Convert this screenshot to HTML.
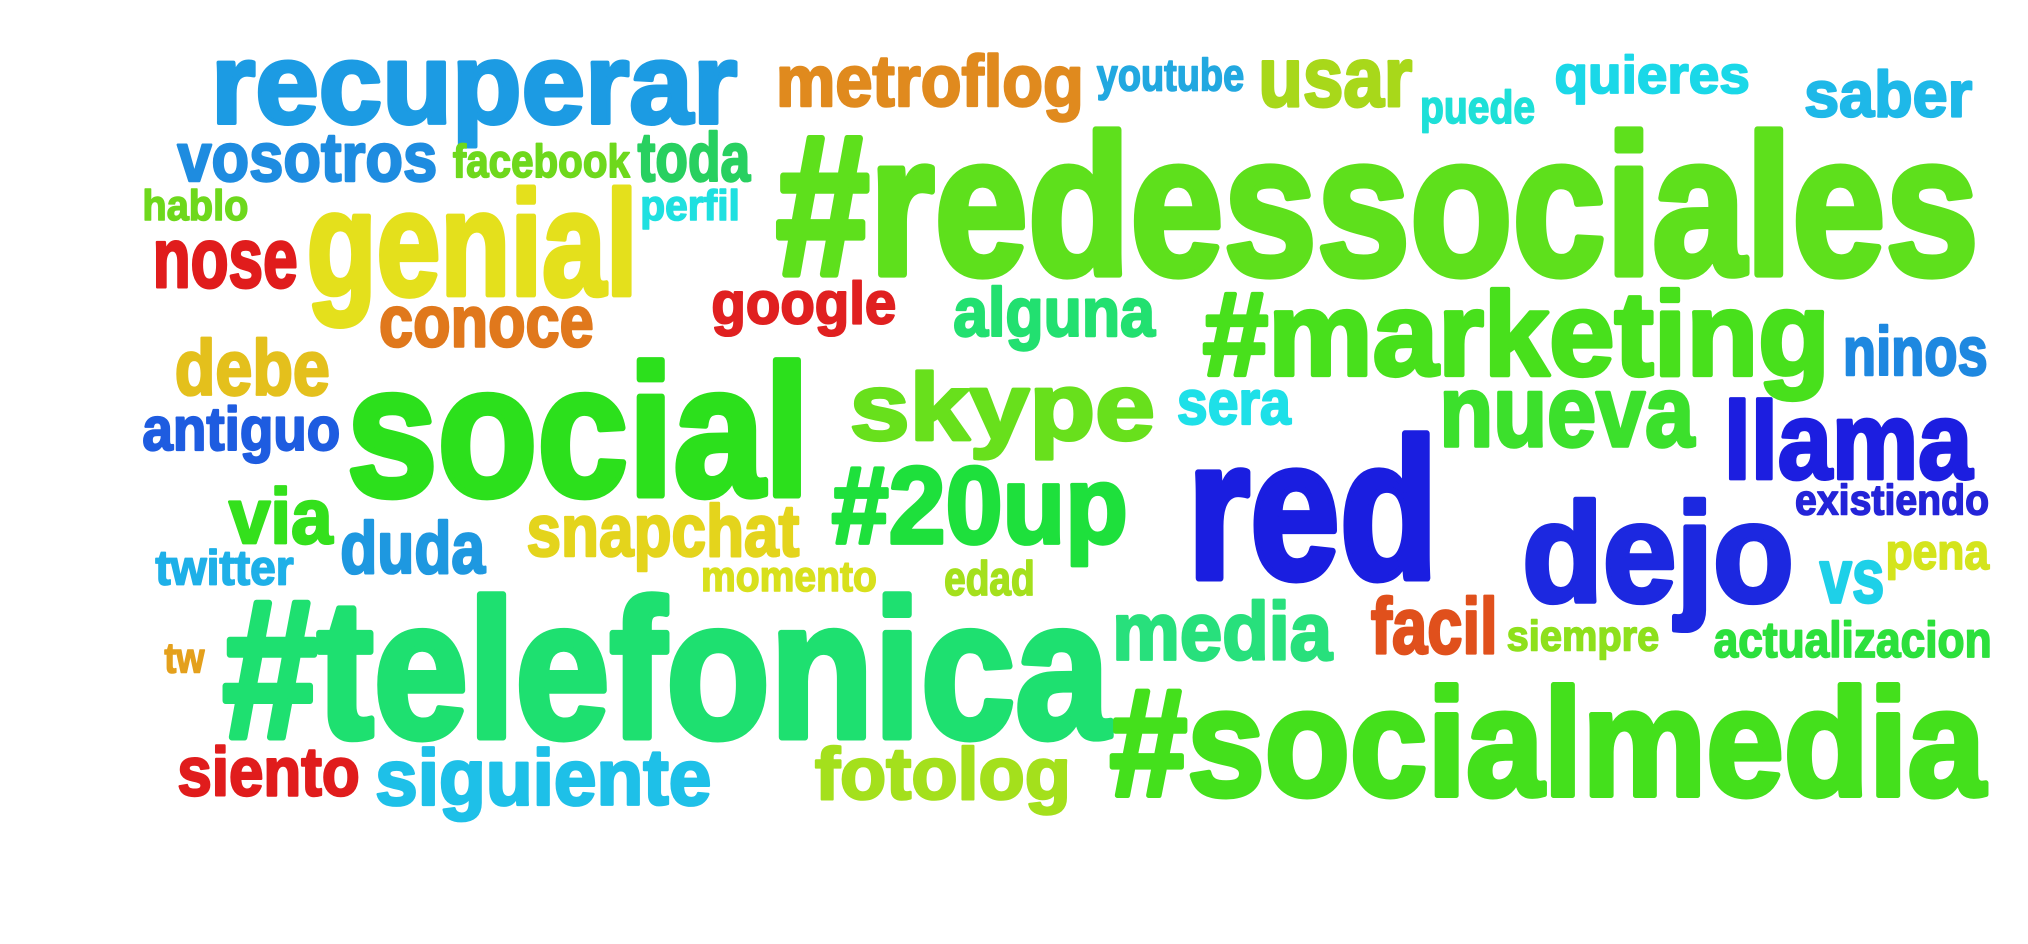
<!DOCTYPE html>
<html><head><meta charset="utf-8"><style>
html,body{margin:0;padding:0;background:#fff;width:2028px;height:944px;overflow:hidden}
svg{display:block}
text{font-family:"Liberation Sans",sans-serif;font-weight:bold}
</style></head><body>
<svg id="cloud" width="2028" height="944" viewBox="0 0 1568 730" xmlns="http://www.w3.org/2000/svg">
<rect width="1568" height="730" fill="#fff"/>
</svg>
<script>
const words=["recuperar","metroflog","youtube","usar","puede","quieres","saber","#redessociales","vosotros","facebook","toda","hablo","perfil","genial","nose","google","conoce","alguna","#marketing","ninos","debe","social","skype","sera","nueva","llama","antiguo","red","#20up","via","existiendo","dejo","duda","snapchat","twitter","momento","edad","vs","pena","#telefonica","media","facil","siempre","actualizacion","tw","#socialmedia","siento","siguiente","fotolog"];
const xs=[163,600,848,973,1098,1202,1395,600,137,350,493,110,495,237,118,550,293,737,930,1425,135,268,657,910,1113,1333,110,918,643,177,1388,1177,263,407,120,542,730,1407,1458,172,860,1060,1165,1325,127,858,137,290,630];
const baselines=[95,82,70,82,95,72,90,212,140,137,140,170,170,228,222,250,268,260,290,290,305,383,340,328,345,370,348,447,420,420,398,465,443,430,452,457,460,466,440,570,510,505,503,508,520,615,615,622,618];
const widths=[407,238,114,119,89,151,130,930,201,137,87,82,77,256,112,143,166,156,485,112,120,358,236,88,197,192,153,194,229,80,150,210,112,211,107,136,70,50,80,686,170,98,118,215,31,677,141,260,198];
const sizes=[88,56,35,65,36,41,50,154,53,36,53,33,33,115,65,46,56,53,92,53,60,144,73,48,78,85,47,154,85,60,33,109,57,57,38,33,37,59,39,152,63,61,33,39,33,118,53,61,57];
const colors=["#1c9be3","#e08a1e","#22a8e0","#a8d81a","#1ee0d8","#1ad8e8","#1eb8e8","#5ee01c","#1e8ce0","#6ed81c","#28d060","#6ed81c","#1ee0e0","#e4e01c","#e01c1c","#e02020","#e0781c","#22e070","#48e01c","#1e88e0","#e4c01c","#2ce01c","#68e01c","#1ee0e8","#3ce02c","#1c1ee0","#1e5ce0","#1a1ee0","#1ee03c","#34e01c","#2424d8","#1c28e0","#1e98e0","#e4d41c","#1eb0e8","#d8e01c","#a4e01c","#1ed0e8","#d4e41c","#1ee070","#28e07c","#e0501c","#8ee01c","#2ce03c","#e4a01c","#44e01c","#e01c1c","#1ec0e8","#a4e01c"];
const svg=document.getElementById('cloud');
const NS="http://www.w3.org/2000/svg";
for(let i=0;i<words.length;i++){
  const t=document.createElementNS(NS,'text');
  
  
  t.setAttribute('x',xs[i]);
  t.setAttribute('y',baselines[i]);
  t.setAttribute('font-size',sizes[i]);
  t.setAttribute('fill',colors[i]);
  t.setAttribute('stroke',colors[i]);
  t.setAttribute('stroke-width',(sizes[i]*0.035).toFixed(2));
  t.setAttribute('stroke-linejoin','round');
  t.setAttribute('textLength',widths[i]);
  t.setAttribute('lengthAdjust','spacingAndGlyphs');
  t.textContent=words[i];
  svg.appendChild(t);
}
</script>
</body></html>
